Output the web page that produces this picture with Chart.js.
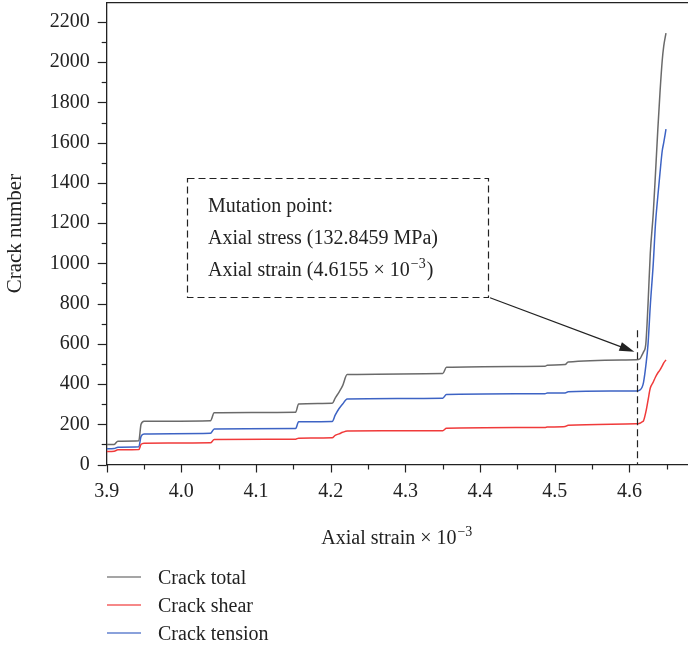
<!DOCTYPE html>
<html>
<head>
<meta charset="utf-8">
<script src="https://cdn.jsdelivr.net/npm/chart.js@4.4.1/dist/chart.umd.min.js"></script>
<style>
  html, body { margin: 0; padding: 0; background: #fff; }
  #c { display: block; }
</style>
</head>
<body>
<canvas id="c" width="688" height="646"></canvas>
<script>
// axial strain (x 10^-3) and crack counts
const strain = [3.900, 3.910, 3.915, 3.943, 3.946, 3.950, 4.039, 4.044, 4.153, 4.157,
  4.202, 4.206, 4.211, 4.216, 4.222, 4.350, 4.355, 4.487, 4.490, 4.514, 4.518, 4.609,
  4.614, 4.617, 4.619, 4.622, 4.625, 4.628, 4.632, 4.635, 4.638, 4.641, 4.644, 4.646, 4.649];
const crackTotal = [99, 100, 116, 118, 200, 215, 218, 257, 260, 301,
  304, 330, 359, 392, 447, 452, 483, 488, 494, 497, 510, 521,
  525, 545, 560, 600, 800, 1050, 1250, 1450, 1660, 1850, 2010, 2080, 2145];
const crackShear = [65, 66, 73, 74, 100, 106, 108, 124, 126, 131,
  133, 145, 152, 160, 167, 168, 180, 184, 186, 189, 195, 202,
  205, 212, 218, 260, 320, 380, 410, 435, 455, 470, 490, 505, 520];
const crackTension = [78, 79, 86, 88, 140, 152, 155, 177, 179, 212,
  214, 245, 277, 301, 326, 330, 348, 352, 355, 356, 362, 366,
  370, 384, 410, 490, 600, 790, 1000, 1200, 1330, 1450, 1560, 1600, 1667];

const seriesNames = ['Crack total', 'Crack shear', 'Crack tension'];
const xTickValues = [3.9, 4.0, 4.1, 4.2, 4.3, 4.4, 4.5, 4.6];
const yTickValues = [0, 200, 400, 600, 800, 1000, 1200, 1400, 1600, 1800, 2000, 2200];

// mutation point annotation (data coordinates)
const mutationStrain = 4.6106;
const noteLines = ['Mutation point:', 'Axial stress (132.8459 MPa)', 'Axial strain (4.6155 \u00d7 10'];

const FONT = "'Liberation Serif', 'DejaVu Serif', serif";
const INK = '#222';
const colors = ['#6a6a6a', '#f03a3a', '#3d63c4'];

function pts(ys) { return strain.map((x, i) => ({ x: x, y: ys[i] })); }

// text with a superscript part, left aligned at x; returns width
function supText(ctx, base, sup, tail, x, y, size, dry) {
  ctx.font = size + 'px ' + FONT;
  const w = ctx.measureText(base).width;
  if (!dry) ctx.fillText(base, x, y);
  ctx.font = Math.round(size * 0.68) + 'px ' + FONT;
  const w2 = ctx.measureText(sup).width;
  if (!dry) ctx.fillText(sup, x + w + 1, y - size * 0.38);
  ctx.font = size + 'px ' + FONT;
  if (!dry) ctx.fillText(tail, x + w + w2 + 2, y);
  return w + w2 + 2 + ctx.measureText(tail).width;
}

const decor = {
  id: 'decor',
  afterDraw(chart) {
    const ctx = chart.ctx, a = chart.chartArea;
    const xs = chart.scales.x, ys = chart.scales.y;
    ctx.save();
    ctx.strokeStyle = INK;
    ctx.fillStyle = INK;
    ctx.lineWidth = 1.3;

    // top frame line
    ctx.beginPath();
    ctx.moveTo(a.left, a.top); ctx.lineTo(a.right, a.top);
    ctx.stroke();

    // ticks, major and minor
    ctx.lineWidth = 1.2;
    for (let v = 0; v <= 2200; v += 100) {
      const p = Math.round(ys.getPixelForValue(v)) + 0.5;
      const len = v % 200 === 0 ? 9 : 5;
      ctx.beginPath(); ctx.moveTo(a.left - len, p); ctx.lineTo(a.left, p); ctx.stroke();
    }
    for (let k = 0; k <= 15; k++) {
      const v = 3.9 + k * 0.05;
      const p = Math.round(xs.getPixelForValue(v)) + 0.5;
      const len = k % 2 === 0 ? 8 : 5;
      ctx.beginPath(); ctx.moveTo(p, a.bottom); ctx.lineTo(p, a.bottom + len); ctx.stroke();
    }

    // x axis title with superscript
    ctx.textBaseline = 'alphabetic';
    const xt = 'Axial strain \u00d7 10';
    const tw = supText(ctx, xt, '\u22123', '', 0, 0, 20, true);
    supText(ctx, xt, '\u22123', '', (a.left + a.right) / 2 - tw / 2, 544, 20);

    // dashed vertical line at mutation point
    ctx.setLineDash([7, 4]);
    ctx.lineWidth = 1.2;
    const mx = Math.round(xs.getPixelForValue(mutationStrain)) + 0.5;
    ctx.beginPath();
    ctx.moveTo(mx, ys.getPixelForValue(668)); ctx.lineTo(mx, a.bottom);
    ctx.stroke();

    // annotation box
    const bx1 = xs.getPixelForValue(4.0075), bx2 = xs.getPixelForValue(4.4107);
    const by1 = ys.getPixelForValue(1425), by2 = ys.getPixelForValue(834);
    ctx.strokeRect(Math.round(bx1) + 0.5, Math.round(by1) + 0.5, Math.round(bx2 - bx1), Math.round(by2 - by1));
    ctx.setLineDash([]);

    ctx.font = '20px ' + FONT;
    ctx.fillText(noteLines[0], bx1 + 21, by1 + 34);
    ctx.fillText(noteLines[1], bx1 + 21, by1 + 66);
    supText(ctx, noteLines[2], '\u22123', ')', bx1 + 21, by1 + 98, 20);

    // arrow from box corner to mutation point
    const tx = xs.getPixelForValue(4.6067), ty = ys.getPixelForValue(560);
    const ang = Math.atan2(ty - by2, tx - bx2);
    ctx.lineWidth = 1.2;
    ctx.beginPath();
    ctx.moveTo(bx2 + 2, by2 + 1);
    ctx.lineTo(tx - 12 * Math.cos(ang), ty - 12 * Math.sin(ang));
    ctx.stroke();
    ctx.beginPath();
    ctx.moveTo(tx, ty);
    ctx.lineTo(tx - 15 * Math.cos(ang) + 4.5 * Math.sin(ang), ty - 15 * Math.sin(ang) - 4.5 * Math.cos(ang));
    ctx.lineTo(tx - 15 * Math.cos(ang) - 4.5 * Math.sin(ang), ty - 15 * Math.sin(ang) + 4.5 * Math.cos(ang));
    ctx.closePath();
    ctx.fill();

    // legend
    ctx.font = '20px ' + FONT;
    chart.data.datasets.forEach((ds, i) => {
      const y = 577 + i * 28;
      ctx.strokeStyle = colors[i];
      ctx.globalAlpha = 0.8;
      ctx.lineWidth = 1.5;
      ctx.beginPath(); ctx.moveTo(107, y); ctx.lineTo(141, y); ctx.stroke();
      ctx.globalAlpha = 1;
      ctx.fillStyle = INK;
      ctx.fillText(ds.label, 158, y + 7);
    });
    ctx.restore();
  }
};

new Chart(document.getElementById('c'), {
  type: 'line',
  data: {
    datasets: [
      { label: seriesNames[0], data: pts(crackTotal), borderColor: colors[0] },
      { label: seriesNames[1], data: pts(crackShear), borderColor: colors[1] },
      { label: seriesNames[2], data: pts(crackTension), borderColor: colors[2] }
    ]
  },
  options: {
    responsive: false,
    animation: false,
    devicePixelRatio: 1,
    layout: { padding: { left: 0, right: 0, top: 2.7, bottom: 121.5 } },
    elements: {
      point: { radius: 0 },
      line: { borderWidth: 1.5, cubicInterpolationMode: 'monotone', fill: false }
    },
    plugins: { legend: { display: false }, tooltip: { enabled: false } },
    scales: {
      x: {
        type: 'linear',
        min: 3.9,
        max: 4.6785,
        afterBuildTicks: s => { s.ticks = xTickValues.map(v => ({ value: v })); },
        afterFit: s => { s.height = 60; s.paddingLeft = 0; s.paddingRight = 0; },
        grid: { display: false, drawTicks: true, tickLength: 8 },
        border: { display: true, color: INK, width: 1.3 },
        ticks: {
          color: INK, padding: 7, maxRotation: 0,
          font: { family: FONT, size: 20 },
          callback: v => v.toFixed(1)
        }
      },
      y: {
        min: 0,
        max: 2296,
        afterBuildTicks: s => { s.ticks = yTickValues.map(v => ({ value: v })); },
        afterFit: s => { s.width = 106.7; s.paddingTop = 0; s.paddingBottom = 0; },
        grid: { display: false, drawTicks: true, tickLength: 9 },
        border: { display: true, color: INK, width: 1.3 },
        ticks: {
          color: INK, padding: 8,
          font: { family: FONT, size: 20 },
          callback: v => String(v)
        },
        title: {
          display: true, text: 'Crack number', color: INK,
          font: { family: FONT, size: 21 }, padding: { top: 3, bottom: 0 }
        }
      }
    }
  },
  plugins: [decor]
});
</script>
</body>
</html>
